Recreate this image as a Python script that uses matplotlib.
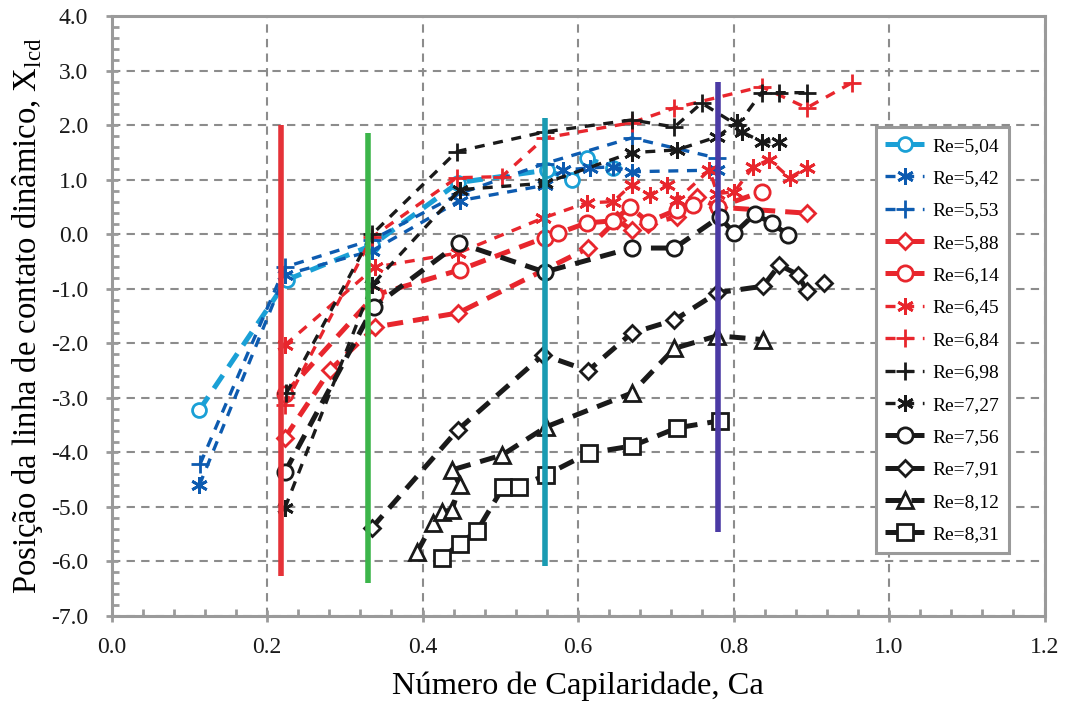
import matplotlib
matplotlib.use("Agg")
import matplotlib.pyplot as plt
from matplotlib.ticker import MultipleLocator, FormatStrFormatter

plt.rcParams['font.family'] = ['Liberation Serif', 'DejaVu Serif']
plt.rcParams['mathtext.fontset'] = 'custom'
plt.rcParams['mathtext.rm'] = 'Liberation Serif'

# ---- data ----
x_504 = [0.113, 0.226, 0.335, 0.446, 0.560, 0.592, 0.611, 0.645]
y_504 = [-3.22, -0.83, -0.20, 0.95, 1.18, 1.00, 1.40, 1.22]

x_542 = [0.113, 0.223, 0.335, 0.448, 0.557, 0.581, 0.615, 0.645, 0.669, 0.779]
y_542 = [-4.60, -0.74, -0.30, 0.62, 0.90, 1.18, 1.22, 1.24, 1.15, 1.18]

x_553 = [0.114, 0.223, 0.335, 0.448, 0.557, 0.669, 0.779]
y_553 = [-4.21, -0.60, -0.10, 0.75, 1.30, 1.77, 1.40]

x_588 = [0.223, 0.281, 0.339, 0.446, 0.613, 0.650, 0.669, 0.690, 0.727, 0.753, 0.780, 0.894]
y_588 = [-3.73, -2.49, -1.70, -1.44, -0.25, 0.27, 0.08, 0.20, 0.32, 0.69, 0.50, 0.39]

x_614 = [0.223, 0.339, 0.448, 0.557, 0.574, 0.611, 0.645, 0.667, 0.690, 0.727, 0.748, 0.780, 0.836]
y_614 = [-2.93, -1.11, -0.65, -0.06, 0.02, 0.21, 0.25, 0.50, 0.23, 0.45, 0.54, 0.50, 0.78]

x_645 = [0.223, 0.339, 0.446, 0.555, 0.611, 0.645, 0.669, 0.692, 0.714, 0.727, 0.769, 0.779, 0.801, 0.825, 0.846, 0.872, 0.894]
y_645 = [-2.03, -0.60, -0.34, 0.30, 0.58, 0.60, 0.91, 0.72, 0.91, 0.63, 1.18, 0.75, 0.78, 1.24, 1.37, 1.04, 1.22]

x_684 = [0.223, 0.335, 0.444, 0.502, 0.557, 0.669, 0.724, 0.836, 0.894, 0.952]
y_684 = [-3.13, -0.05, 1.04, 1.06, 1.77, 2.05, 2.32, 2.71, 2.32, 2.78]

x_698 = [0.225, 0.335, 0.444, 0.557, 0.669, 0.724, 0.759, 0.805, 0.836, 0.859, 0.894]
y_698 = [-2.91, 0.00, 1.52, 1.88, 2.10, 1.97, 2.41, 2.00, 2.60, 2.60, 2.60]

x_727 = [0.223, 0.335, 0.448, 0.557, 0.669, 0.727, 0.779, 0.805, 0.811, 0.836, 0.859]
y_727 = [-5.02, -0.93, 0.82, 0.94, 1.50, 1.55, 1.79, 2.06, 1.88, 1.70, 1.70]

x_756 = [0.223, 0.337, 0.447, 0.557, 0.669, 0.724, 0.782, 0.801, 0.827, 0.849, 0.870]
y_756 = [-4.36, -1.33, -0.16, -0.69, -0.25, -0.25, 0.32, 0.02, 0.37, 0.21, -0.01]

x_791 = [0.335, 0.445, 0.555, 0.613, 0.669, 0.724, 0.779, 0.838, 0.859, 0.883, 0.894, 0.916]
y_791 = [-5.38, -3.59, -2.21, -2.50, -1.81, -1.57, -1.07, -0.95, -0.56, -0.74, -1.03, -0.90]

x_812 = [0.393, 0.413, 0.425, 0.438, 0.448, 0.438, 0.502, 0.559, 0.669, 0.724, 0.779, 0.838]
y_812 = [-5.83, -5.30, -5.09, -5.05, -4.60, -4.32, -4.05, -3.53, -2.91, -2.09, -1.86, -1.93]

x_831 = [0.425, 0.448, 0.470, 0.504, 0.524, 0.559, 0.614, 0.670, 0.727, 0.782]
y_831 = [-5.94, -5.67, -5.44, -4.63, -4.63, -4.41, -4.01, -3.88, -3.55, -3.42]

# vertical reference lines: x position, y bottom, y top
vline_x = [0.218, 0.330, 0.558, 0.780]
vline_ybot = [-6.27, -6.39, -6.08, -5.46]
vline_ytop = [2.00, 1.86, 2.14, 2.80]

labels = ["Re=5,04", "Re=5,42", "Re=5,53", "Re=5,88", "Re=6,14", "Re=6,45", "Re=6,84",
          "Re=6,98", "Re=7,27", "Re=7,56", "Re=7,91", "Re=8,12", "Re=8,31"]

LB = '#1aa0d6'
DB = '#0d5bb0'
RD = '#e8262d'
BK = '#1a1a1a'

THICK = 3.6
THIN = 2.4
DT = (3.2, 2.0)
DN = (3.0, 2.6)

series = [
    (x_504, y_504, LB, 'o', THICK, DT, 10),
    (x_542, y_542, DB, (6, 2, 0), THIN, DN, 12),
    (x_553, y_553, DB, '+', THIN, DN, 13),
    (x_588, y_588, RD, 'D', THICK, DT, 8),
    (x_614, y_614, RD, 'o', THICK, DT, 11),
    (x_645, y_645, RD, (6, 2, 0), THIN, DN, 12),
    (x_684, y_684, RD, '+', THIN, DN, 13),
    (x_698, y_698, BK, '+', THIN, DN, 13),
    (x_727, y_727, BK, (6, 2, 0), THIN, DN, 12),
    (x_756, y_756, BK, 'o', THICK, DT, 11),
    (x_791, y_791, BK, 'D', THICK, DT, 8),
    (x_812, y_812, BK, '^', THICK, DT, 11),
    (x_831, y_831, BK, 's', THICK, DT, 11),
]

fig = plt.figure(figsize=(10.67, 7.11), dpi=100)
ax = fig.add_axes([0.1045, 0.1336, 0.8745, 0.8434])

vcolors = ['#e53238', '#3cb54a', '#1a9bb2', '#4b3aa4']
for vx, yb, yt, c in zip(vline_x, vline_ybot, vline_ytop, vcolors):
    ax.plot([vx, vx], [yb, yt], color=c, lw=4, solid_capstyle='butt', zorder=4)

handles = []
for (xs, ys, col, mk, lw, dash, ms), lab in zip(series, labels):
    hollow = mk in ('o', 'D', '^', 's')
    ln, = ax.plot(xs, ys, color=col, lw=lw, dashes=dash, marker=mk, ms=ms,
                  mfc='white' if hollow else col, mec=col, mew=2.0,
                  label=lab, zorder=3)
    handles.append(ln)

ax.set_xlim(0.0, 1.2)
ax.set_ylim(-7.0, 4.0)
ax.xaxis.set_major_locator(MultipleLocator(0.2))
ax.xaxis.set_minor_locator(MultipleLocator(0.04))
ax.yaxis.set_major_locator(MultipleLocator(1.0))
ax.yaxis.set_minor_locator(MultipleLocator(0.2))
ax.xaxis.set_major_formatter(FormatStrFormatter('%.1f'))
ax.yaxis.set_major_formatter(FormatStrFormatter('%.1f'))

ax.grid(True, which='major', color='#8c8c8c', linestyle=(0, (4, 3)), lw=1.5, zorder=0)
for s in ax.spines.values():
    s.set_color('#9a9a9a')
    s.set_linewidth(2.2)
ax.tick_params(which='major', direction='inout', length=8, width=2, color='#9a9a9a',
               labelsize=17, labelcolor='#1a1a1a')
ax.tick_params(which='minor', direction='in', length=5, width=2, color='#9a9a9a')
ax.tick_params(axis='x', which='major', pad=11)
ax.tick_params(axis='y', which='major', pad=13)
ax.tick_params(top=False, right=False, which='both')

ax.set_xlabel("Número de Capilaridade, Ca", fontsize=23.4, labelpad=10)
ax.set_ylabel(r"Posição da linha de contato dinâmico, X$_{\mathrm{lcd}}$", fontsize=23.5, labelpad=4)

leg = ax.legend(handles=handles, loc='upper left', bbox_to_anchor=(0.819, 0.815),
                fontsize=14, frameon=True, fancybox=False, handlelength=2.0,
                handletextpad=0.4, labelspacing=0.76, borderpad=0.5, borderaxespad=0)
leg.get_frame().set_edgecolor('#9a9a9a')
leg.get_frame().set_linewidth(2.2)
leg.get_frame().set_facecolor('white')
leg.get_frame().set_alpha(1)
leg.set_zorder(10)

fig.savefig("out.png", dpi=100)
